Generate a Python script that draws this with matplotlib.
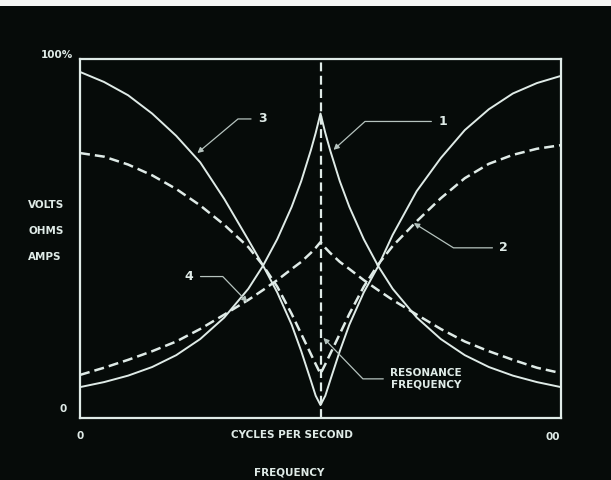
import matplotlib
matplotlib.use("Agg")
import matplotlib.pyplot as plt
from matplotlib.patches import Rectangle

# frequency axis, 0 .. 100 with resonance at 50
freq = [0, 5, 10, 15, 20, 25, 30, 35, 38, 41, 44, 46, 48, 49, 50,
        51, 52, 54, 56, 59, 62, 65, 70, 75, 80, 85, 90, 95, 100]

# percent of full scale
curve1 = [8.6, 10.0, 11.8, 14.2, 17.5, 22.0, 28.0, 36.0, 42.3, 49.8, 58.8, 66.0, 74.6, 79.4, 84.8,
          79.4, 74.6, 66.0, 58.8, 49.8, 42.3, 36.0, 28.0, 22.0, 17.5, 14.2, 11.8, 10.0, 8.6]
curve2 = [73.8, 72.8, 70.6, 67.6, 63.8, 59.2, 53.8, 47.6, 42.6, 36.6, 29.0, 23.4, 17.8, 15.0, 12.3,
          15.0, 17.8, 23.4, 29.0, 36.6, 42.8, 47.9, 54.8, 61.2, 66.8, 70.8, 73.3, 75.0, 76.0]
curve3 = [96.4, 93.6, 89.9, 84.8, 78.6, 71.2, 61.0, 49.6, 42.6, 35.0, 26.0, 18.6, 10.4, 6.2, 3.6,
          6.2, 10.4, 18.6, 26.0, 35.0, 42.3, 51.0, 63.2, 72.4, 80.2, 86.0, 90.4, 93.3, 95.3]
curve4 = [12.0, 14.0, 16.2, 18.6, 21.3, 24.8, 28.8, 32.9, 35.6, 38.4, 41.5, 43.5, 46.0, 47.4, 49.0,
          47.4, 46.0, 43.5, 41.5, 38.4, 35.6, 32.9, 28.8, 24.8, 21.3, 18.6, 16.2, 14.0, 12.5]

resonance = 50
units = ["VOLTS", "OHMS", "AMPS"]

bg = "#060b09"
ink = "#dfebe7"
thin = "#b5c3be"

fig = plt.figure(figsize=(6.11, 4.8), dpi=100, facecolor=bg)
fig.patches.append(Rectangle((0, 1 - 6 / 480), 1, 6 / 480, transform=fig.transFigure,
                             facecolor="#f4f6f4", edgecolor="none"))
ax = fig.add_axes([80 / 611, 62 / 480, 481 / 611, 359 / 480])
ax.set_facecolor(bg)
ax.set_xlim(0, 100)
ax.set_ylim(0, 100)
ax.set_xticks([])
ax.set_yticks([])
for s in ax.spines.values():
    s.set_color(ink)
    s.set_linewidth(1.6)

ax.plot(freq, curve1, color=ink, lw=1.4)
ax.plot(freq, curve3, color=ink, lw=1.4)
ax.plot(freq, curve2, color=ink, lw=1.8, dashes=(4, 2))
ax.plot(freq, curve4, color=ink, lw=1.8, dashes=(4, 2))
ax.axvline(resonance, color=ink, lw=1.6, dashes=(4, 2))

font = dict(color=ink, fontsize=7.5, fontweight="bold", family="DejaVu Sans")
num = dict(color=ink, fontsize=9, fontweight="bold", family="DejaVu Sans")
lead = dict(arrowstyle="-|>", color=thin, lw=0.9, mutation_scale=8, shrinkA=3, shrinkB=0)

# curve labels with leader lines (horizontal from the label, then slanting to the curve)
ax.annotate("3", xy=(24.4, 73.8), xytext=(37.9, 83.3), va="center", ha="center",
            arrowprops=dict(lead, connectionstyle="angle,angleA=0,angleB=40,rad=0"), **num)
ax.annotate("1", xy=(52.7, 74.7), xytext=(75.4, 82.6), va="center", ha="center",
            arrowprops=dict(lead, connectionstyle="angle,angleA=0,angleB=42,rad=0"), **num)
ax.annotate("2", xy=(69.4, 54.3), xytext=(88.1, 47.4), va="center", ha="center",
            arrowprops=dict(lead, connectionstyle="angle,angleA=0,angleB=-32,rad=0"), **num)
ax.annotate("4", xy=(34.8, 32.3), xytext=(22.7, 39.4), va="center", ha="center",
            arrowprops=dict(lead, connectionstyle="angle,angleA=0,angleB=-46,rad=0"), **num)
ax.annotate("RESONANCE\nFREQUENCY", xy=(50.6, 22.3), xytext=(64.5, 10.9), va="center", ha="left",
            linespacing=1.1, multialignment="center",
            arrowprops=dict(lead, connectionstyle="angle,angleA=0,angleB=-46,rad=0"), **font)

# axis texts
ax.text(-1.5, 101.0, "100%", ha="right", va="center", clip_on=False, **font)
ax.text(-3.5, 2.5, "0", ha="center", va="center", clip_on=False, **font)
for i, u in enumerate(units):
    ax.text(-10.8, 59.2 - 7.2 * i, u, ha="left", va="center", clip_on=False, **font)
ax.text(0, -5.0, "0", ha="center", va="center", clip_on=False, **font)
ax.text(98.3, -5.2, "00", ha="center", va="center", clip_on=False, **font)
ax.text(44.0, -4.8, "CYCLES PER SECOND", ha="center", va="center", clip_on=False, **font)
ax.text(43.5, -15.3, "FREQUENCY", ha="center", va="center", clip_on=False, **font)

fig.savefig("out.png", dpi=100, facecolor=bg)
